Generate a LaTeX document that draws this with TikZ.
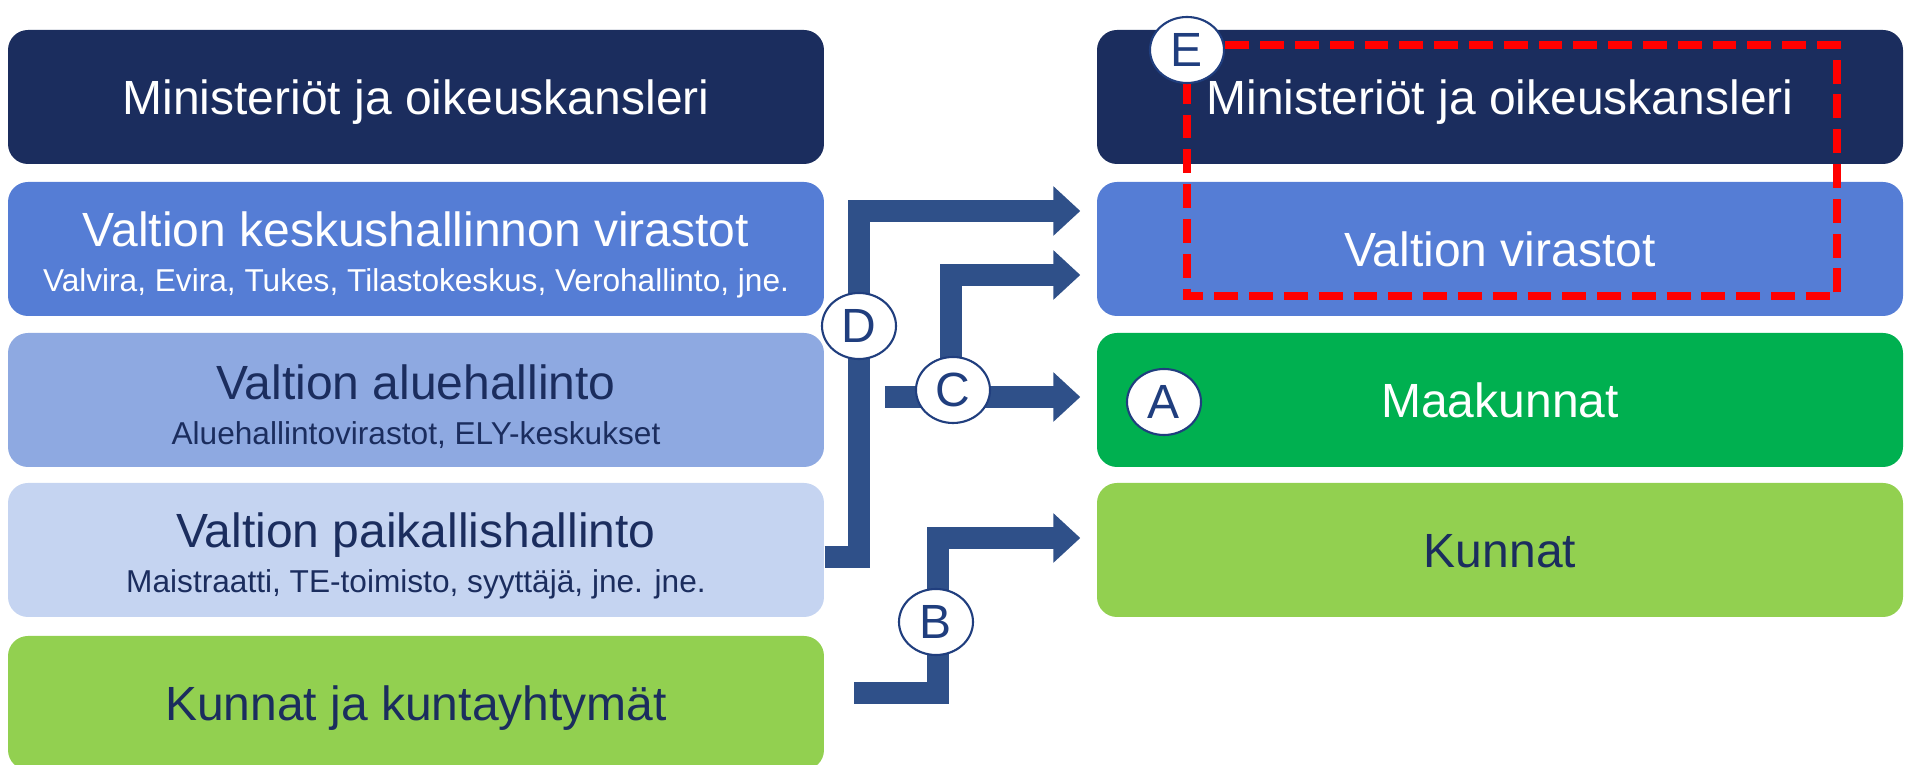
\documentclass[tikz,border=0pt]{standalone}
\usepackage{fontspec}
\setmainfont{Liberation Sans}
\usetikzlibrary{arrows.meta,calc,shapes.geometric}

\definecolor{tummasin}{HTML}{1B2D5E}
\definecolor{keskisin}{HTML}{557DD5}
\definecolor{vaaleasin}{HTML}{8EA9E1}
\definecolor{haalea}{HTML}{C5D4F1}
\definecolor{vihrea}{HTML}{00B050}
\definecolor{limetti}{HTML}{92D050}
\definecolor{nuolisin}{HTML}{2F5089}
\definecolor{reunasin}{HTML}{203E7E}

\newcommand{\otsikko}[1]{{\fontsize{13.66}{16}\selectfont\rule{0pt}{13.4pt}#1}}

\begin{document}
\begin{tikzpicture}[x=0.1mm,y=-0.1mm,
    laatikko/.style={rounded corners=2mm,minimum height=13.4mm,inner sep=0pt,align=center,
      font=\fontsize{9}{12.8}\selectfont},
    vasen/.style={laatikko,minimum width=81.6mm},
    oikea/.style={laatikko,minimum width=80.6mm},
    iso/.style={font=\fontsize{13.66}{16}\selectfont,text height=10pt,text depth=0pt},
    nuoli/.style={draw=nuolisin,line width=2.2mm,line join=miter,shorten >=1.6mm,
      -{Triangle[width=4.8mm,length=2.7mm]}},
    kirjain/.style={ellipse,draw=reunasin,line width=0.6pt,fill=white,text=reunasin,
      minimum width=7.4mm,minimum height=6.6mm,inner sep=0pt,
      font=\fontsize{13.66}{16}\selectfont},
    katko/.style={draw=red,line width=2pt,dash pattern=on 6.8pt off 3.1pt}]
  \useasboundingbox (0,0) rectangle (1905,765);

  % vasen sarake
  \node[vasen,fill=tummasin,text=white,iso] (lmin) at (416,97) {Ministeriöt ja oikeuskansleri};
  \node[vasen,fill=keskisin,text=white] (lkesk) at (416,249)
    {\otsikko{Valtion keskushallinnon virastot}\\Valvira, Evira, Tukes, Tilastokeskus, Verohallinto, jne.};
  \node[vasen,fill=vaaleasin,text=tummasin] (lalue) at (416,400)
    {\otsikko{Valtion aluehallinto}\\Aluehallintovirastot, ELY-keskukset};
  \node[vasen,fill=haalea,text=tummasin] (lpaik) at (416,550)
    {\otsikko{Valtion paikallishallinto}\\Maistraatti, TE-toimisto, syyttäjä, jne. jne.};
  \node[vasen,fill=limetti,text=tummasin,iso] (lkunta) at (416,703) {Kunnat ja kuntayhtymät};

  % oikea sarake
  \node[oikea,fill=tummasin,text=white,iso] (rmin) at (1500,97) {Ministeriöt ja oikeuskansleri};
  \node[oikea,fill=keskisin,text=white,iso] (rvir) at (1500,249) {Valtion virastot};
  \node[oikea,fill=vihrea,text=white,iso] (rmaak) at (1500,400) {Maakunnat};
  \node[oikea,fill=limetti,text=tummasin,iso] (rkun) at (1500,550) {Kunnat};

  % nuolet
  \coordinate (dala) at (859,557);
  \coordinate (dyla) at (859,211);
  \draw[nuoli] (lpaik.east |- dala) -- (dala) -- (dyla) -- (dyla -| rvir.west);

  \coordinate (calku) at (885,397);
  \coordinate (cyla) at (951,275);
  \draw[nuoli] (calku) -- (calku -| rmaak.west);
  \draw[nuoli] (cyla |- calku) -- (cyla) -- (cyla -| rvir.west);

  \coordinate (balku) at (854,693);
  \coordinate (byla) at (938,538);
  \draw[nuoli] (balku) -- (byla |- balku) -- (byla) -- (byla -| rkun.west);

  % rajaus
  \draw[katko] (1187,45) rectangle (1837,296);

  \node[kirjain] (kd) at (859,326) {D};
  \node[kirjain] (kc) at (953,390) {C};
  \node[kirjain] (kb) at (936,622) {B};
  \node[kirjain] (ka) at (1164,402) {A};
  \node[kirjain] (ke) at (1187,50) {E};
\end{tikzpicture}
\end{document}
